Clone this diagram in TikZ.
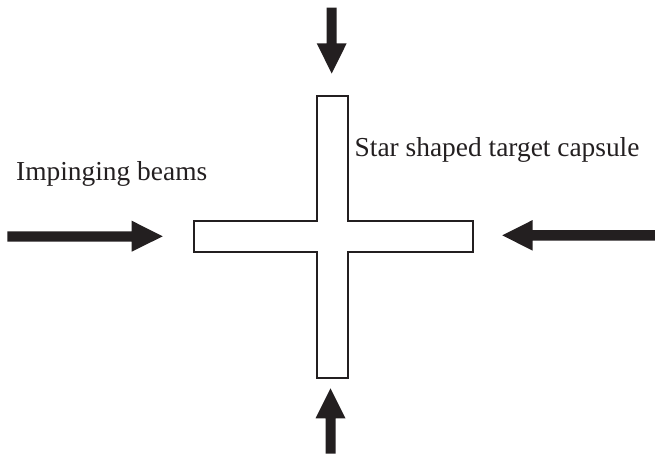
\documentclass[tikz,border=0pt]{standalone}
\usepackage{fontspec}
\setmainfont{Liberation Serif}
\definecolor{ink}{HTML}{231F20}
\begin{document}
\begin{tikzpicture}[x=1pt,y=-1pt,
  capsule/.style={draw=ink,line width=2pt,fill=white,line join=miter},
  beam/.style={fill=ink,draw=none},
  lbl/.style={inner sep=0pt,anchor=base west,text=ink,font=\fontsize{27.4}{31}\selectfont}]
\useasboundingbox (0,0) rectangle (655,456);
% cross
\draw[capsule] (317,96) -- (348,96) -- (348,220.5) -- (472.5,220.5) -- (472.5,252) -- (348,252)
  -- (348,378) -- (317,378) -- (317,252) -- (193.5,252) -- (193.5,220.5) -- (317,220.5) -- cycle;
% top arrow
\fill[beam] (326.7,7.5) -- (336.7,7.5) -- (336.7,43.3) -- (346.7,43.3) -- (331.7,73.5) -- (316.7,43.3) -- (326.7,43.3) -- cycle;
% bottom arrow
\fill[beam] (325.5,453.5) -- (335.5,453.5) -- (335.5,418.3) -- (345.5,418.3) -- (330.5,388.3) -- (315.5,418.3) -- (325.5,418.3) -- cycle;
% left arrow
\fill[beam] (7.3,231.3) -- (131.7,231.3) -- (131.7,220.7) -- (162.7,236.3) -- (131.7,251.7) -- (131.7,241.5) -- (7.3,241.5) -- cycle;
% right arrow
\fill[beam] (655,230) -- (532.7,230) -- (532.7,220) -- (502.3,235.3) -- (532.7,250.7) -- (532.7,240.5) -- (655,240.5) -- cycle;
\node[lbl] (t1) at (16,180.7) {Impinging beams};
\node[lbl] (t2) at (354.5,156.7) {Star shaped target capsule};
\end{tikzpicture}
\end{document}
